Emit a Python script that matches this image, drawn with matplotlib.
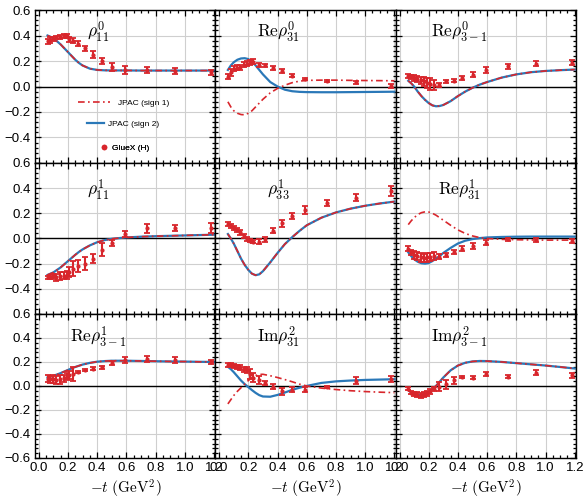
import matplotlib
matplotlib.use("Agg")
import matplotlib.pyplot as plt
from matplotlib.lines import Line2D
from matplotlib.ticker import MultipleLocator, AutoMinorLocator, FuncFormatter

plt.rcParams['font.family'] = ['Liberation Sans', 'DejaVu Sans']
plt.rcParams['mathtext.fontset'] = 'cm'

RED = '#d8262c'
BLUE = '#2a78b8'

# GlueX t bins (GeV^2)
t_data = [0.06, 0.08, 0.10, 0.12, 0.145, 0.17, 0.19, 0.21, 0.235, 0.27,
          0.315, 0.37, 0.43, 0.50, 0.59, 0.74, 0.935, 1.18]
# grid of the model curves
t_curve = [0.06, 0.08, 0.10, 0.125, 0.15, 0.175, 0.20, 0.225, 0.25, 0.275,
           0.30, 0.35, 0.40, 0.45, 0.50, 0.55, 0.60, 0.70, 0.80, 0.90,
           1.00, 1.10, 1.20]

titles = [r'$\rho^0_{11}$', r'$\mathrm{Re}\rho^0_{31}$', r'$\mathrm{Re}\rho^0_{3-1}$',
          r'$\rho^1_{11}$', r'$\rho^1_{33}$', r'$\mathrm{Re}\rho^1_{31}$',
          r'$\mathrm{Re}\rho^1_{3-1}$', r'$\mathrm{Im}\rho^2_{31}$', r'$\mathrm{Im}\rho^2_{3-1}$']
title_y = [0.86, 0.82, 0.84]

# ---- data points ----
d_rho0_11 = [0.355, 0.365, 0.375, 0.385, 0.39, 0.395, 0.395, 0.37, 0.36, 0.335,
             0.30, 0.25, 0.20, 0.155, 0.13, 0.128, 0.12, 0.11]
e_rho0_11 = [0.02, 0.02, 0.015, 0.015, 0.015, 0.015, 0.015, 0.02, 0.02, 0.02,
             0.02, 0.025, 0.025, 0.03, 0.03, 0.025, 0.025, 0.02]
d_rho0_31 = [0.075, 0.11, 0.14, 0.147, 0.152, 0.17, 0.18, 0.19, 0.195, 0.17,
             0.165, 0.147, 0.12, 0.085, 0.06, 0.043, 0.032, 0.005]
e_rho0_31 = [0.02, 0.025, 0.02, 0.02, 0.02, 0.02, 0.02, 0.02, 0.02, 0.015,
             0.015, 0.015, 0.015, 0.012, 0.01, 0.01, 0.012, 0.015]
d_rho0_3m1 = [0.08, 0.075, 0.067, 0.059, 0.048, 0.04, 0.03, 0.02, 0.013, 0.015,
              0.04, 0.045, 0.067, 0.093, 0.128, 0.16, 0.18, 0.187]
e_rho0_3m1 = [0.015, 0.015, 0.02, 0.02, 0.03, 0.035, 0.04, 0.045, 0.04, 0.015,
              0.01, 0.01, 0.015, 0.02, 0.025, 0.02, 0.02, 0.02]
d_rho1_11 = [-0.31, -0.305, -0.30, -0.31, -0.30, -0.295, -0.29, -0.267, -0.24, -0.22,
             -0.20, -0.16, -0.088, -0.037, 0.035, 0.08, 0.085, 0.08]
e_rho1_11 = [0.01, 0.015, 0.02, 0.025, 0.03, 0.03, 0.035, 0.04, 0.06, 0.05,
             0.05, 0.035, 0.05, 0.025, 0.025, 0.035, 0.025, 0.04]
d_rho1_33 = [0.115, 0.10, 0.085, 0.07, 0.05, 0.02, -0.005, -0.02, -0.027, -0.027,
             -0.005, 0.06, 0.12, 0.18, 0.227, 0.28, 0.325, 0.375]
e_rho1_33 = [0.015, 0.015, 0.015, 0.015, 0.02, 0.015, 0.015, 0.012, 0.012, 0.02,
             0.02, 0.02, 0.025, 0.025, 0.03, 0.025, 0.03, 0.04]
d_rho1_31 = [-0.08, -0.11, -0.13, -0.14, -0.15, -0.155, -0.15, -0.147, -0.14, -0.145,
             -0.13, -0.105, -0.08, -0.06, -0.035, -0.008, -0.013, -0.02]
e_rho1_31 = [0.02, 0.02, 0.03, 0.035, 0.035, 0.035, 0.035, 0.035, 0.03, 0.02,
             0.015, 0.015, 0.02, 0.025, 0.02, 0.015, 0.015, 0.015]
d_rho1_3m1 = [0.06, 0.056, 0.06, 0.05, 0.055, 0.065, 0.08, 0.09, 0.10, 0.117,
              0.135, 0.145, 0.155, 0.19, 0.214, 0.228, 0.214, 0.20]
e_rho1_3m1 = [0.03, 0.03, 0.035, 0.035, 0.035, 0.03, 0.03, 0.035, 0.055, 0.01,
              0.01, 0.01, 0.012, 0.015, 0.025, 0.025, 0.025, 0.02]
d_im2_31 = [0.172, 0.172, 0.167, 0.16, 0.152, 0.14, 0.13, 0.10, 0.07, 0.05,
            0.025, -0.005, -0.045, -0.03, -0.03, -0.008, 0.042, 0.06]
e_im2_31 = [0.015, 0.015, 0.015, 0.015, 0.02, 0.02, 0.025, 0.045, 0.035, 0.03,
            0.02, 0.02, 0.03, 0.02, 0.02, 0.01, 0.03, 0.025]
d_im2_3m1 = [-0.022, -0.055, -0.068, -0.072, -0.078, -0.07, -0.06, -0.045, -0.025, -0.005,
             0.012, 0.047, 0.075, 0.069, 0.097, 0.075, 0.11, 0.089]
e_im2_3m1 = [0.015, 0.015, 0.015, 0.02, 0.02, 0.02, 0.02, 0.02, 0.02, 0.035,
             0.04, 0.03, 0.01, 0.015, 0.015, 0.012, 0.02, 0.02]

# ---- JPAC curves (sign 1 / sign 2) ----
c_rho0_11 = [0.40, 0.39, 0.375, 0.355, 0.33, 0.30, 0.27, 0.24, 0.21, 0.185,
             0.165, 0.14, 0.13, 0.127, 0.126, 0.126, 0.126, 0.125, 0.125, 0.125,
             0.125, 0.125, 0.125]
c2_rho0_31 = [0.13, 0.165, 0.19, 0.21, 0.22, 0.222, 0.215, 0.195, 0.165, 0.13,
              0.095, 0.035, 0.0, -0.025, -0.037, -0.042, -0.044, -0.045, -0.045, -0.044,
              -0.043, -0.042, -0.041]
c1_rho0_31 = [-0.12, -0.16, -0.19, -0.21, -0.22, -0.222, -0.21, -0.19, -0.16, -0.13,
              -0.10, -0.05, -0.015, 0.01, 0.03, 0.042, 0.048, 0.05, 0.05, 0.048,
              0.047, 0.046, 0.045]
c_rho0_3m1 = [0.045, 0.025, 0.0, -0.04, -0.075, -0.105, -0.13, -0.148, -0.155, -0.153,
              -0.145, -0.115, -0.075, -0.04, -0.01, 0.015, 0.035, 0.07, 0.095, 0.112,
              0.122, 0.128, 0.133]
c_rho1_11 = [-0.29, -0.28, -0.27, -0.25, -0.23, -0.205, -0.18, -0.155, -0.13, -0.107,
             -0.087, -0.055, -0.03, -0.013, -0.003, 0.003, 0.008, 0.014, 0.018, 0.021,
             0.024, 0.027, 0.03]
c_rho1_33 = [0.035, 0.0, -0.04, -0.10, -0.16, -0.21, -0.25, -0.28, -0.292, -0.285,
             -0.26, -0.19, -0.115, -0.045, 0.01, 0.06, 0.105, 0.165, 0.207, 0.237,
             0.26, 0.278, 0.293]
c2_rho1_31 = [-0.11, -0.14, -0.165, -0.185, -0.197, -0.20, -0.195, -0.18, -0.16, -0.14,
              -0.115, -0.075, -0.04, -0.018, -0.005, 0.003, 0.008, 0.012, 0.014, 0.015,
              0.015, 0.015, 0.015]
c1_rho1_31 = [0.11, 0.14, 0.165, 0.19, 0.205, 0.212, 0.21, 0.20, 0.185, 0.165,
              0.145, 0.105, 0.068, 0.04, 0.02, 0.007, 0.0, -0.007, -0.01, -0.012,
              -0.013, -0.013, -0.013]
c_rho1_3m1 = [0.07, 0.077, 0.085, 0.095, 0.107, 0.12, 0.133, 0.146, 0.158, 0.168,
              0.178, 0.192, 0.202, 0.207, 0.21, 0.21, 0.21, 0.208, 0.206, 0.204,
              0.203, 0.201, 0.20]
c2_im2_31 = [0.16, 0.14, 0.115, 0.08, 0.045, 0.015, -0.01, -0.035, -0.058, -0.077,
             -0.088, -0.09, -0.075, -0.055, -0.033, -0.015, 0.0, 0.025, 0.038, 0.045,
             0.05, 0.053, 0.056]
c1_im2_31 = [-0.15, -0.115, -0.08, -0.045, -0.015, 0.015, 0.045, 0.07, 0.087, 0.096,
             0.097, 0.085, 0.07, 0.053, 0.035, 0.015, 0.0, -0.018, -0.03, -0.04,
             -0.047, -0.052, -0.056]
c_im2_3m1 = [-0.035, -0.055, -0.067, -0.075, -0.076, -0.068, -0.05, -0.027, 0.0, 0.035,
             0.07, 0.13, 0.17, 0.193, 0.204, 0.208, 0.207, 0.20, 0.19, 0.18,
             0.17, 0.158, 0.145]

panels = [
    (d_rho0_11, e_rho0_11, c_rho0_11, c_rho0_11),
    (d_rho0_31, e_rho0_31, c1_rho0_31, c2_rho0_31),
    (d_rho0_3m1, e_rho0_3m1, c_rho0_3m1, c_rho0_3m1),
    (d_rho1_11, e_rho1_11, c_rho1_11, c_rho1_11),
    (d_rho1_33, e_rho1_33, c_rho1_33, c_rho1_33),
    (d_rho1_31, e_rho1_31, c1_rho1_31, c2_rho1_31),
    (d_rho1_3m1, e_rho1_3m1, c_rho1_3m1, c_rho1_3m1),
    (d_im2_31, e_im2_31, c1_im2_31, c2_im2_31),
    (d_im2_3m1, e_im2_3m1, c_im2_3m1, c_im2_3m1),
]

fig = plt.figure(figsize=(5.85, 5.01), dpi=100)
gs = fig.add_gridspec(3, 3, left=0.06, right=0.985, top=0.98, bottom=0.086,
                      hspace=0, wspace=0, height_ratios=[153, 151, 144])


def ylab(row):
    def f(v, pos):
        if row < 2 and abs(v + 0.6) < 1e-6:
            return ''
        return f'{v:.1f}'.replace('-', '\u2212')
    return f


for i, (d, e, c1, c2) in enumerate(panels):
    row, col = divmod(i, 3)
    ax = fig.add_subplot(gs[row, col])
    ax.set_xlim(-0.025, 1.21)
    ax.set_ylim(-0.6, 0.6)
    ax.xaxis.set_major_locator(MultipleLocator(0.2))
    ax.yaxis.set_major_locator(MultipleLocator(0.2))
    ax.xaxis.set_minor_locator(AutoMinorLocator(4))
    ax.yaxis.set_minor_locator(AutoMinorLocator(5))
    ax.grid(True, which='major', color='#cfcfcf', lw=0.8, zorder=1)
    ax.axhline(0, color='black', lw=1.0, zorder=1.8)
    ax.tick_params(which='both', direction='in', top=True, right=True,
                   labelsize=9.5, width=0.9, pad=3)
    ax.tick_params(which='major', length=4)
    ax.tick_params(which='minor', length=2)
    for s in ax.spines.values():
        s.set_linewidth(1.0)

    ax.plot(t_curve, c2, color=BLUE, lw=1.6, zorder=2)
    ax.plot(t_curve, c1, color=RED, lw=1.2, dashes=(4, 2, 1, 2), zorder=2.5)
    ax.errorbar(t_data, d, yerr=e, fmt='o', ms=2, color=RED, ecolor=RED,
                elinewidth=1.5, capsize=2.2, capthick=1.3, zorder=3)

    ax.text(0.35, title_y[row], titles[i], transform=ax.transAxes, ha='center',
            va='center', fontsize=12.5)

    if col == 0:
        ax.yaxis.set_major_formatter(FuncFormatter(ylab(row)))
    else:
        ax.tick_params(labelleft=False)
    if row == 2:
        ax.xaxis.set_major_formatter(FuncFormatter(lambda v, p: f'{v:.1f}'))
        ax.set_xlabel(r'$-t\ (\mathrm{GeV}^2)$', fontsize=11, labelpad=3)
    else:
        ax.tick_params(labelbottom=False)

    if i == 0:
        # one legend per entry, so each entry can sit where the original has it
        entries = [
            (Line2D([], [], color=RED, lw=1.2, dashes=(4, 2, 1, 2)), 'JPAC (sign 1)',
             (0.239, 0.394), 3.8, 0.95),
            (Line2D([], [], color=BLUE, lw=1.6), 'JPAC (sign 2)',
             (0.289, 0.255), 2.0, 0.5),
            (Line2D([], [], color=RED, marker='o', ms=3, ls='none'), 'GlueX (H)',
             (0.361, 0.098), 0.8, 0.64),
        ]
        for h, lab, anchor, hl, pad in entries:
            leg = ax.legend([h], [lab], loc='center left', bbox_to_anchor=anchor,
                            frameon=False, fontsize=6, borderpad=0, borderaxespad=0,
                            handlelength=hl, handletextpad=pad)
            ax.add_artist(leg)

fig.savefig('out.png', dpi=100)
